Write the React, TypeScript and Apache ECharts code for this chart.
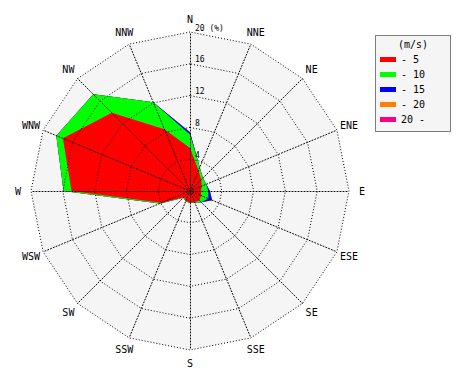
import React, { useEffect, useRef } from 'react';
import * as echarts from 'echarts';

// Directions clockwise from north
const directions = ['N', 'NNE', 'NE', 'ENE', 'E', 'ESE', 'SE', 'SSE', 'S', 'SSW', 'SW', 'WSW', 'W', 'WNW', 'NW', 'NNW'];
const speedBands = ['- 5', '- 10', '- 15', '- 20', '20 -'];
const bandColors = ['#ff0000', '#00ff00', '#0000ff', '#ff8000', '#ff0080'];
// frequency (%) of each speed band, clockwise from N
const band5 = [5.4, 2.8, 2.0, 1.6, 1.4, 1.5, 1.7, 1.5, 1.5, 1.3, 1.1, 3.9, 14.9, 17.3, 13.9, 8.4];
const band10 = [1.7, 0.4, 0.3, 0.6, 0.9, 1.0, 0.3, 0.1, 0.0, 0.1, 0.1, 0.2, 1.0, 0.9, 3.3, 3.7];
const band15 = [0.3, 0.0, 0.0, 0.0, 0.2, 0.5, 0.0, 0.0, 0.0, 0.0, 0.0, 0.0, 0.0, 0.0, 0.0, 0.0];
const band20 = [0, 0, 0, 0, 0, 0, 0, 0, 0, 0, 0, 0, 0, 0, 0, 0];
const band20plus = [0, 0, 0, 0, 0, 0, 0, 0, 0, 0, 0, 0, 0, 0, 0, 0];
const radialMax = 20;
const radialSplits = 5;
const unitLabel = '(%)';
const legendTitle = '(m/s)';

const FONT = 'DejaVu Sans Mono';

export default function App() {
  const ref = useRef<HTMLDivElement>(null);
  useEffect(() => {
    if (!ref.current) return;
    const chart = echarts.init(ref.current, undefined, { renderer: 'svg' });
    const bands = [band5, band10, band15, band20, band20plus];
    // cumulative
    const cumulative: number[][] = [];
    bands.forEach((b, k) => {
      cumulative.push(b.map((v, i) => +(v + (k > 0 ? cumulative[k - 1][i] : 0)).toFixed(2)));
    });
    // radar goes counter-clockwise: N, NNW, NW, ...
    const ccwIdx = [0, ...directions.map((_, i) => i).slice(1).reverse()];
    const makeIndicators = (withLabel: boolean) =>
      ccwIdx.map((i, j) => {
        const ind: any = { name: directions[i], min: 0, max: radialMax };
        if (withLabel && j === 0) {
          ind.axisLabel = {
            show: true,
            fontFamily: FONT,
            fontSize: 8,
            color: '#000',
            align: 'left',
            verticalAlign: 'bottom',
            margin: -5,
            formatter: (v: number) => (v === 0 ? '' : v === radialMax ? `${v} ${unitLabel}` : String(v)),
          };
        }
        return ind;
      });
    const base = {
      center: [190, 191],
      radius: 159,
      startAngle: 90,
      shape: 'polygon',
      splitNumber: radialSplits,
    };
    const dotted = { color: '#000', type: [1, 2], width: 1 };
    const option: any = {
      animation: false,
      backgroundColor: '#fff',
      radar: [
        {
          ...base,
          z: 1,
          indicator: makeIndicators(false),
          nameGap: 13,
          axisName: { show: true, color: '#000', fontFamily: FONT, fontSize: 10, align: 'center', verticalAlign: 'middle' },
          splitArea: { show: true, areaStyle: { color: ['#f5f5f5'] } },
          splitLine: { show: false },
          axisLine: { show: false },
          axisTick: { show: false },
          axisLabel: { show: false },
        },
        {
          ...base,
          z: 5,
          indicator: makeIndicators(true),
          axisName: { show: false },
          splitArea: { show: false },
          splitLine: { show: true, lineStyle: dotted },
          axisLine: { show: true, lineStyle: dotted },
          axisTick: { show: false },
          axisLabel: { show: false },
        },
      ],
      legend: {
        orient: 'vertical',
        left: 380,
        top: 52,
        padding: 0,
        itemWidth: 16,
        itemHeight: 5,
        itemGap: 0,
        icon: 'rect',
        selectedMode: false,
        data: speedBands,
        textStyle: { fontFamily: FONT, fontSize: 10, color: '#000', lineHeight: 15 },
      },
      graphic: [
        {
          type: 'rect',
          z: 0,
          shape: { x: 375.5, y: 35.5, width: 75, height: 96 },
          style: { fill: '#f5f5f5', stroke: '#000', lineWidth: 1, lineDash: [1, 1] },
        },
        {
          type: 'text',
          z: 1,
          x: 413,
          y: 44,
          style: { text: legendTitle, fontFamily: FONT, fontSize: 10, fill: '#000', align: 'center', verticalAlign: 'middle' },
        },
      ],
      series: [4, 3, 2, 1, 0].map((k) => ({
        type: 'radar',
        radarIndex: 0,
        name: speedBands[k],
        symbol: 'none',
        silent: true,
        itemStyle: { color: bandColors[k] },
        lineStyle: { width: 0, opacity: 0 },
        areaStyle: { color: bandColors[k], opacity: 1 },
        data: [{ name: speedBands[k], value: ccwIdx.map((i) => cumulative[k][i]) }],
      })),
    };
    chart.setOption(option);
    return () => chart.dispose();
  }, []);
  return <div ref={ref} style={{ width: 470, height: 380, position: 'absolute', left: 0, top: 0 }} />;
}
